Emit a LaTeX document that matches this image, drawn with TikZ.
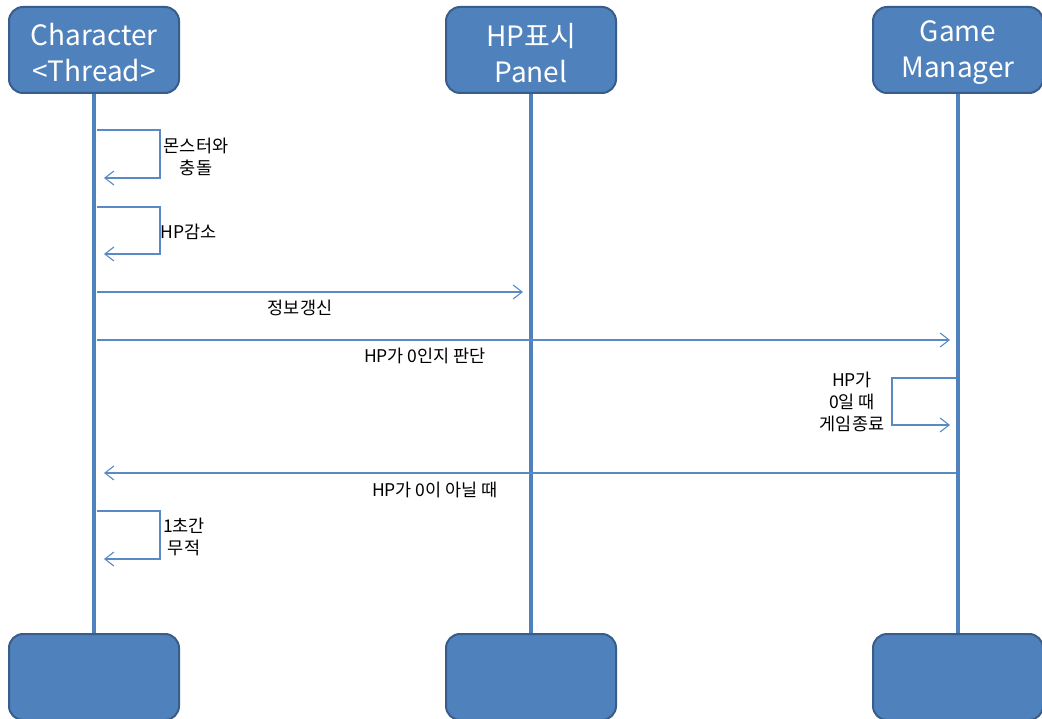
\documentclass[tikz,border=0pt]{standalone}
\usepackage{fontspec}
\setmainfont{Noto Sans CJK KR}
\usetikzlibrary{arrows.meta}
\definecolor{boxfill}{HTML}{4F81BD}
\definecolor{boxdraw}{HTML}{385D8A}
\definecolor{msg}{HTML}{5A8AC6}
\tikzset{
  actor/.style={draw=boxdraw, fill=boxfill, line width=2pt, rounded corners=14pt,
    minimum width=170pt, minimum height=86pt, inner sep=0pt},
  actortext/.style={text=white, align=center, yshift=-3pt,
    font=\fontsize{28}{36}\selectfont, inner sep=0pt},
  life/.style={draw=boxfill, line width=4pt},
  msgline/.style={draw=msg, line width=1.1pt, -{Straight Barb[length=9pt,width=14pt,line width=1.1pt]}},
  lbl/.style={font=\fontsize{17.5}{22}\selectfont, align=center, inner sep=0pt}
}
\begin{document}
\begin{tikzpicture}[x=1pt,y=-1pt]
\useasboundingbox (0,0) rectangle (1042,719);
\clip (0,0) rectangle (1042,719);
\fill[white] (0,0) rectangle (1042,719);
% top boxes
\node[actor] (ca) at (94,50) {};
\node[actortext] (cat) at (ca.center) {Character\\<Thread>};
\node[actor] (hp) at (531,50) {};
\node[actortext] (hpt) at (hp.center) {HP표시\\Panel};
\node[actor] (gm) at (958,50) {};
\node[actortext] (gmt) at (gm.center) {Game\\Manager};
% bottom boxes
\node[actor] (cb) at (94,677) {};
\node[actor] (hb) at (531,677) {};
\node[actor] (gb) at (958,677) {};
% lifelines
\draw[life] (ca.south) -- (cb.north);
\draw[life] (hp.south) -- (hb.north);
\draw[life] (gm.south) -- (gb.north);
% coordinates
\coordinate (c1a) at (97,130); \coordinate (c1b) at (104,178);
\coordinate (c2a) at (97,207); \coordinate (c2b) at (104,254);
\coordinate (m1a) at (97,292); \coordinate (m1b) at (523,292);
\coordinate (m2a) at (97,340); \coordinate (m2b) at (950,340);
\coordinate (g1a) at (956,378); \coordinate (g1b) at (950,425);
\coordinate (m3a) at (956,473); \coordinate (m3b) at (104,473);
\coordinate (c3a) at (97,511); \coordinate (c3b) at (104,559);
% self loops
\draw[msgline] (c1a) -- (160,130) -- (160,178) -- (c1b);
\node[lbl] (l1) at (196,157) {몬스터와\\충돌};
\draw[msgline] (c2a) -- (160,207) -- (160,254) -- (c2b);
\node[lbl] (l2) at (189,232) {HP감소};
\draw[msgline] (m1a) -- (m1b);
\node[lbl] (l3) at (300,308) {정보갱신};
\draw[msgline] (m2a) -- (m2b);
\node[lbl] (l4) at (425,356) {HP가 0인지 판단};
\draw[msgline] (g1a) -- (892,378) -- (892,425) -- (g1b);
\node[lbl] (l5) at (852,402) {HP가\\0일 때\\게임종료};
\draw[msgline] (m3a) -- (m3b);
\node[lbl] (l6) at (435,490) {HP가 0이 아닐 때};
\draw[msgline] (c3a) -- (160,511) -- (160,559) -- (c3b);
\node[lbl] (l7) at (184,537) {1초간\\무적};
\end{tikzpicture}
\end{document}
